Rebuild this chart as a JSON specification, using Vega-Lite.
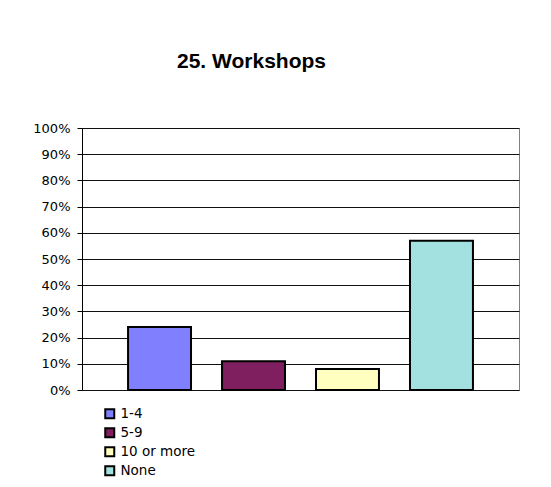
{
  "$schema": "https://vega.github.io/schema/vega-lite/v6.json",
  "autosize": {"type": "none"},
  "padding": {"left": 82, "top": 128, "right": 32, "bottom": 97},
  "width": 437,
  "height": 262,
  "background": "white",
  "config": {
    "font": "DejaVu Sans",
    "view": {"stroke": "#808080", "strokeWidth": 1}
  },
  "title": {
    "text": "25. Workshops",
    "font": "Liberation Sans",
    "fontSize": 21,
    "fontWeight": "bold",
    "color": "black",
    "anchor": "middle",
    "dx": -49,
    "offset": 50
  },
  "data": {
    "values": [
      {"category": "1-4", "share": 0.24},
      {"category": "5-9", "share": 0.11},
      {"category": "10 or more", "share": 0.08},
      {"category": "None", "share": 0.57}
    ]
  },
  "mark": {"type": "bar", "stroke": "black", "strokeWidth": 2},
  "encoding": {
    "x": {
      "field": "category",
      "type": "nominal",
      "sort": ["1-4", "5-9", "10 or more", "None"],
      "scale": {"paddingInner": 0.33, "paddingOuter": 0.49},
      "axis": null
    },
    "y": {
      "field": "share",
      "type": "quantitative",
      "scale": {"domain": [0, 1]},
      "axis": {
        "title": null,
        "format": "%",
        "values": [0, 0.1, 0.2, 0.3, 0.4, 0.5, 0.6, 0.7, 0.8, 0.9, 1],
        "labelFont": "DejaVu Sans",
        "labelFontSize": 13,
        "labelColor": "black",
        "labelPadding": 7,
        "tickSize": 5,
        "tickColor": "black",
        "domainColor": "black",
        "grid": true,
        "gridColor": "#111",
        "gridWidth": 1
      }
    },
    "color": {
      "field": "category",
      "type": "nominal",
      "sort": ["1-4", "5-9", "10 or more", "None"],
      "scale": {
        "domain": ["1-4", "5-9", "10 or more", "None"],
        "range": ["#8080FF", "#7F1F5F", "#FFFFC0", "#A3E0E0"]
      },
      "legend": {
        "title": null,
        "orient": "none",
        "legendX": 21,
        "legendY": 279,
        "symbolType": "square",
        "symbolSize": 81,
        "symbolStrokeColor": "black",
        "symbolStrokeWidth": 2,
        "symbolOpacity": 1,
        "labelFont": "DejaVu Sans",
        "labelFontSize": 13.5,
        "labelColor": "black",
        "labelOffset": 4,
        "rowPadding": 1
      }
    }
  }
}
